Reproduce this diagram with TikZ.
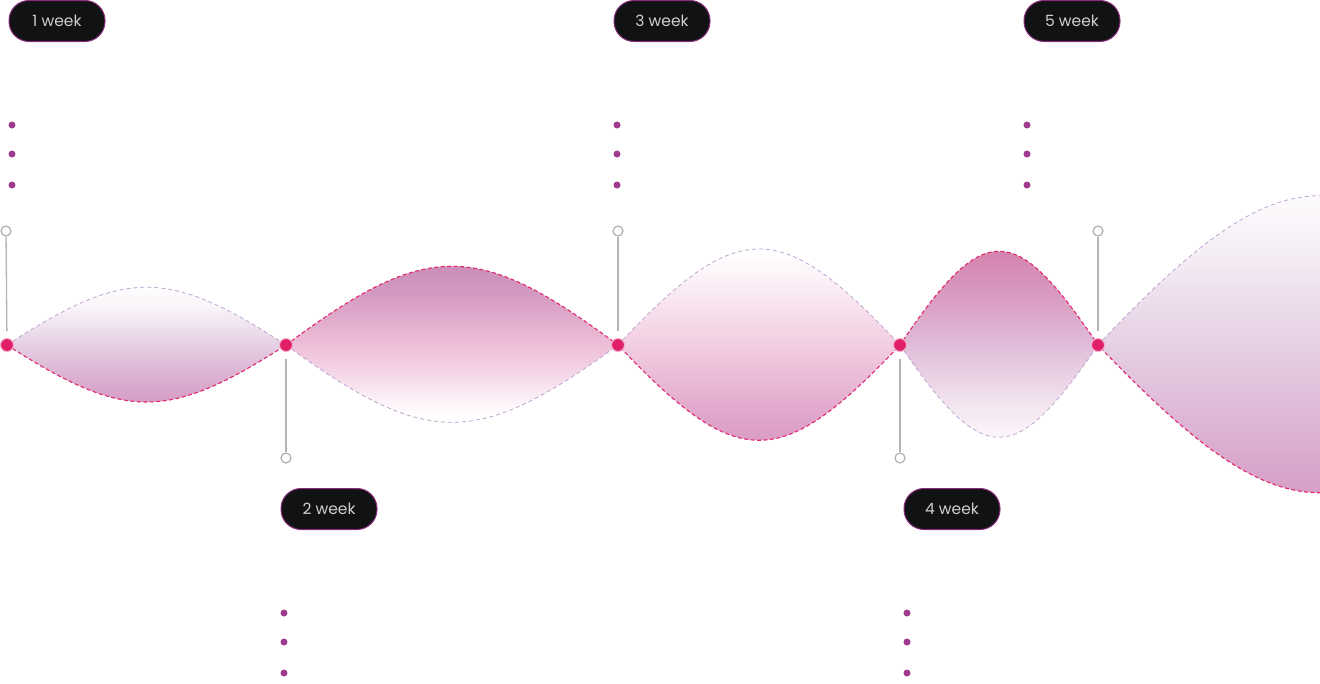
\documentclass[tikz,border=0pt]{standalone}
\usepackage{fontspec}
\setmainfont{Poppins}

\definecolor{dotpink}{HTML}{E01F68}
\definecolor{wavepink}{HTML}{E2286F}
\definecolor{lilac}{HTML}{BCA4D0}
\definecolor{mauve}{HTML}{C283B2}
\definecolor{rose}{HTML}{D28FBD}
\definecolor{deeprose}{HTML}{D274A3}
\definecolor{blush}{HTML}{EEBDD8}
\definecolor{lavender}{HTML}{E5D0E4}
\definecolor{heather}{HTML}{DFBCD8}
\definecolor{pillfill}{HTML}{111213}
\definecolor{pillrim}{HTML}{8C2C7C}
\definecolor{pilltext}{HTML}{CFCFCF}
\definecolor{bullet}{HTML}{A03A8E}
\definecolor{stem}{HTML}{B4B4B4}

% lens fills: 25bp = bottom of the lens, 75bp = top
\pgfdeclareverticalshading{lensdown}{100bp}{color(0bp)=(rose); color(25bp)=(rose);
    color(38bp)=(rose!55!lavender); color(50bp)=(lavender); color(62bp)=(lavender!25!white);
    color(70bp)=(white); color(100bp)=(white)}
\pgfdeclareverticalshading{lensup}{100bp}{color(0bp)=(white); color(33bp)=(white);
    color(42bp)=(blush!55!white); color(50bp)=(blush); color(62bp)=(blush!40!mauve);
    color(75bp)=(mauve); color(100bp)=(mauve)}
\pgfdeclareverticalshading{lensdeep}{100bp}{color(0bp)=(rose); color(25bp)=(rose);
    color(37bp)=(rose!45!blush); color(50bp)=(blush!75!white); color(61bp)=(blush!30!white);
    color(68bp)=(white); color(100bp)=(white)}
\pgfdeclareverticalshading{lensrise}{100bp}{color(0bp)=(white); color(28bp)=(white);
    color(38bp)=(heather!40!white); color(50bp)=(heather); color(62bp)=(heather!45!deeprose);
    color(75bp)=(deeprose); color(100bp)=(deeprose)}
\pgfdeclareverticalshading{lenswide}{100bp}{color(0bp)=(rose); color(25bp)=(rose);
    color(38bp)=(rose!50!lavender); color(50bp)=(lavender); color(62bp)=(lavender!35!white);
    color(71bp)=(white); color(100bp)=(white)}

\begin{document}
\begin{tikzpicture}[x=1pt,y=-1pt,
        week/.style={rectangle,rounded corners=20pt,fill=pillfill,draw=pillrim,line width=1pt,
            minimum width=96pt,minimum height=41pt,text=pilltext,
            font=\fontsize{15.5}{16}\selectfont},
        milestone/.style={circle,fill=dotpink,draw=white!65!dotpink,line width=1pt,
            inner sep=0pt,minimum size=13pt},
        pin/.style={circle,draw=stem,fill=white,line width=1.3pt,inner sep=0pt,minimum size=10pt},
        stemline/.style={stem,line width=1.3pt,shorten >=7pt},
        pinkwave/.style={wavepink,dash pattern=on 4pt off 2.5pt,line width=1.1pt},
        lilacwave/.style={lilac,dash pattern=on 4pt off 3pt,line width=0.8pt},
        bulletdot/.style={circle,fill=bullet,inner sep=0pt,minimum size=7pt},
        ]
    \useasboundingbox (0,0) rectangle (1320,683);
    \clip (0,0) rectangle (1320,683);

    % points on the time axis
    \coordinate (a1) at (7,345);
    \coordinate (a2) at (286,345);
    \coordinate (a3) at (618,345);
    \coordinate (a4) at (900,345);
    \coordinate (a5) at (1098,345);
    \coordinate (a6) at (1542,345); % beyond the right edge

    % lenses
    \shade[shading=lensdown]
        (a1) .. controls +(118,-77) and +(-118,-77) .. (a2)
             .. controls +(-118,76) and +(118,76) .. (a1) -- cycle;
    \shade[shading=lensup]
        (a2) .. controls +(141,-105) and +(-141,-105) .. (a3)
             .. controls +(-141,103) and +(141,103) .. (a2) -- cycle;
    \shade[shading=lensdeep]
        (a3) .. controls +(120,-128) and +(-120,-128) .. (a4)
             .. controls +(-120,127) and +(120,127) .. (a3) -- cycle;
    \shade[shading=lensrise]
        (a4) .. controls +(84,-125) and +(-84,-125) .. (a5)
             .. controls +(-84,123) and +(84,123) .. (a4) -- cycle;
    \shade[shading=lenswide]
        (a5) .. controls +(188,-199) and +(-188,-199) .. (a6)
             .. controls +(-188,197) and +(188,197) .. (a5) -- cycle;

    % dashed outlines
    \draw[lilacwave] (a1) .. controls +(118,-77) and +(-118,-77) .. (a2);
    \draw[lilacwave] (a2) .. controls +(141,103) and +(-141,103) .. (a3);
    \draw[lilacwave] (a3) .. controls +(120,-128) and +(-120,-128) .. (a4);
    \draw[lilacwave] (a4) .. controls +(84,123) and +(-84,123) .. (a5);
    \draw[lilacwave] (a5) .. controls +(188,-199) and +(-188,-199) .. (a6);
    \draw[pinkwave] (a1) .. controls +(118,76) and +(-118,76) .. (a2)
        .. controls +(141,-105) and +(-141,-105) .. (a3)
        .. controls +(120,127) and +(-120,127) .. (a4)
        .. controls +(84,-125) and +(-84,-125) .. (a5)
        .. controls +(188,197) and +(-188,197) .. (a6);

    % pins
    \node[pin] (h1) at (6,231) {};
    \node[pin] (h2) at (286,458) {};
    \node[pin] (h3) at (618,231) {};
    \node[pin] (h4) at (900,458) {};
    \node[pin] (h5) at (1098,231) {};

    \node[milestone] (p1) at (a1) {};
    \node[milestone] (p2) at (a2) {};
    \node[milestone] (p3) at (a3) {};
    \node[milestone] (p4) at (a4) {};
    \node[milestone] (p5) at (a5) {};

    \draw[stemline] (h1) -- (p1);
    \draw[stemline] (h2) -- (p2);
    \draw[stemline] (h3) -- (p3);
    \draw[stemline] (h4) -- (p4);
    \draw[stemline] (h5) -- (p5);

    % week labels
    \node[week] (w1) at (57,21) {1 week};
    \node[week] (w2) at (329,509) {2 week};
    \node[week] (w3) at (662,21) {3 week};
    \node[week] (w4) at (952,509) {4 week};
    \node[week] (w5) at (1072,21) {5 week};

    % bullets
    \foreach \y in {125,154,185} {
        \node[bulletdot] (b1-\y) at (12,\y) {};
        \node[bulletdot] (b3-\y) at (617,\y) {};
        \node[bulletdot] (b5-\y) at (1027,\y) {};
    }
    \foreach \y in {613,642,673} {
        \node[bulletdot] (b2-\y) at (284,\y) {};
        \node[bulletdot] (b4-\y) at (907,\y) {};
    }
\end{tikzpicture}
\end{document}
